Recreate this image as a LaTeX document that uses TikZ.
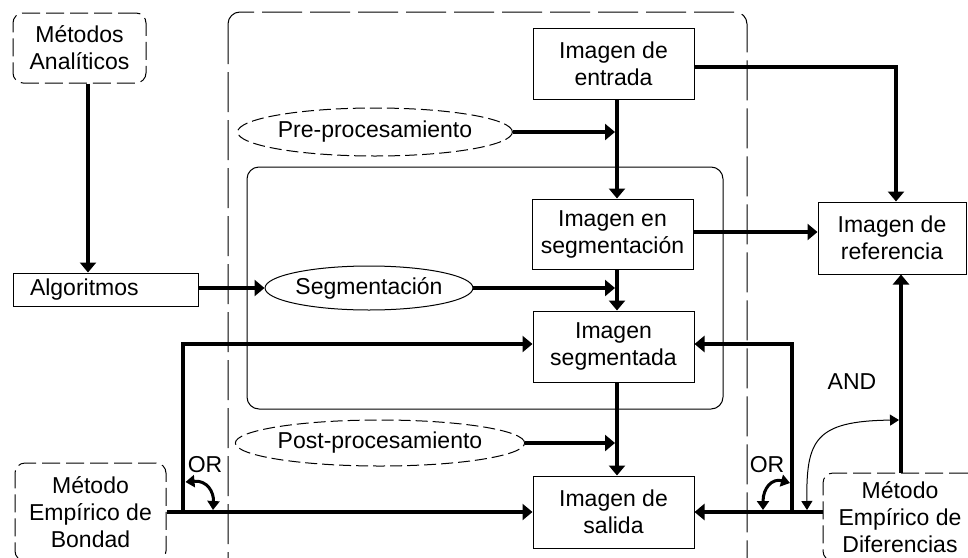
\documentclass[tikz,border=0pt]{standalone}
\usepackage{fontspec}
\setmainfont{Liberation Sans}
\usetikzlibrary{shapes.geometric,arrows.meta,calc}
\begin{document}
\begin{tikzpicture}[x=1pt,y=-1pt,
  font=\fontsize{23}{27}\selectfont,
  box/.style={draw,line width=1pt,inner sep=0pt,align=center},
  dbox/.style={draw,line width=1pt,dash pattern=on 18pt off 6pt,rounded corners=10pt,inner sep=0pt,align=center},
  ell/.style={ellipse,draw,line width=1pt,inner sep=0pt},
  dell/.style={ell,dash pattern=on 12pt off 5pt},
  flow/.style={line width=4pt,-{Triangle[length=10pt,width=16pt]}},
  orflow/.style={line width=3pt,{Triangle[length=9pt,width=12pt]}-{Triangle[length=9pt,width=12pt]}},
  andflow/.style={line width=1pt,{Triangle[length=9pt,width=11pt]}-{Triangle[length=9pt,width=11pt]}},
  lbl/.style={inner sep=0pt}
]
\useasboundingbox (0,0) rectangle (968,557);
\clip (0,0) rectangle (968,557);
\fill[white] (0,0) rectangle (968,557);

% frames
\draw[line width=1pt,dash pattern=on 40pt off 8pt,rounded corners=12pt] (228,12) rectangle (747,600);
\draw[line width=1pt,rounded corners=12pt] (247,167) rectangle (723,409);

% nodes
\node[dbox,minimum width=133pt,minimum height=70pt] (metodos) at (79.5,48) {Métodos\\Analíticos};
\node[box,minimum width=185pt,minimum height=33pt,text width=151pt,inner xsep=17pt,align=left] (algo) at (105.5,289.5) {Algoritmos};
\node[dell,minimum width=234pt,minimum height=48pt] (pre) at (375,132) {Pre-procesamiento};
\node[ell,minimum width=202pt,minimum height=44pt] (seg) at (369,288) {Segmentación};
\node[dell,minimum width=244pt,minimum height=46pt] (post) at (380,443) {Post-procesamiento};
\node[box,minimum width=161pt,minimum height=71pt] (entrada) at (613.5,63.5) {Imagen de\\entrada};
\node[box,minimum width=161pt,minimum height=70pt] (enseg) at (612.5,234) {Imagen en\\segmentación};
\node[box,minimum width=161pt,minimum height=71pt] (segm) at (613.5,346.5) {Imagen\\segmentada};
\node[box,minimum width=161pt,minimum height=72pt] (salida) at (613.5,512) {Imagen de\\salida};
\node[box,minimum width=148pt,minimum height=72pt] (ref) at (892,238) {Imagen de\\referencia};
\node[dbox,minimum width=151pt,minimum height=98pt] (bondad) at (90.5,512) {Método\\Empírico de\\Bondad};
\node[dbox,minimum width=154pt,minimum height=88pt] (dif) at (900,517) {Método\\Empírico de\\Diferencias};

\node[lbl] (orl) at (205,465) {OR};
\node[lbl] (orr) at (767,465) {OR};
\node[lbl] (and) at (852,382) {AND};

% helper coordinates
\coordinate (vA) at (88,0);
\coordinate (vL) at (183,0);
\coordinate (vC) at (617,0);
\coordinate (vR) at (792,0);
\coordinate (vE) at (896,0);
\coordinate (vD) at (901,0);
\coordinate (hE) at (0,67);
\coordinate (hG) at (0,232);
\coordinate (hS) at (0,288);
\coordinate (hI) at (0,344);
\coordinate (hB) at (0,512);

% connectors
\draw[flow] (metodos.south -| vA) -- (algo.north -| vA);
\draw[flow] (algo.east |- hS) -- (seg.west);
\draw[flow] (pre.east) -- ($(pre.east -| vC)+(-2,0)$);
\draw[flow] (entrada.south -| vC) -- (enseg.north -| vC);
\draw[flow] (seg.east) -- ($(seg.east -| vC)+(-2,0)$);
\draw[flow] (enseg.south -| vC) -- (segm.north -| vC);
\draw[flow] (segm.south -| vC) -- (salida.north -| vC);
\draw[flow] (post.east) -- ($(post.east -| vC)+(-2,0)$);
\draw[flow] (entrada.east |- hE) -- (hE -| vE) -- (ref.north -| vE);
\draw[flow] (enseg.east |- hG) -- (ref.west |- hG);
\draw[flow] (dif.north -| vD) -- (ref.south -| vD);
\draw[flow] (dif.west |- hB) -- (salida.east |- hB);
\draw[flow] (hB -| vR) -- (hI -| vR) -- (segm.east |- hI);
\draw[flow] (bondad.east |- hB) -- (salida.west |- hB);
\draw[flow] (hB -| vL) -- (hI -| vL) -- (segm.west |- hI);

% OR / AND arcs
\coordinate (orla) at (185.5,482);
\coordinate (orlb) at (213,510);
\coordinate (orra) at (790,483);
\coordinate (orrb) at (763,510);
\coordinate (anda) at (807,510);
\coordinate (andb) at (899,420);
\draw[orflow] (orla) .. controls (207,480) and (214,492) .. (orlb);
\draw[orflow] (orrb) .. controls (763,488) and (772,478) .. (orra);
\draw[andflow] (anda) .. controls (806,440) and (815,421) .. (andb);
\end{tikzpicture}
\end{document}
